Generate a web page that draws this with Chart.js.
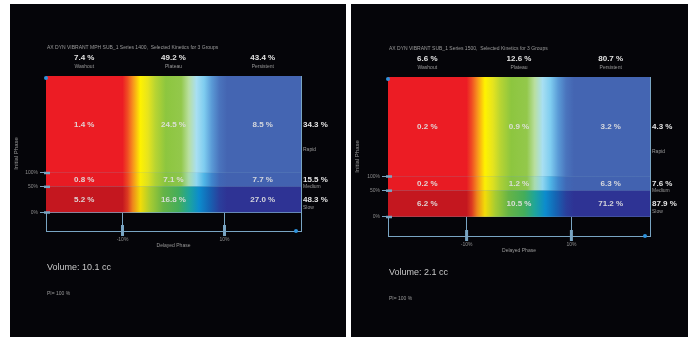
<!DOCTYPE html>
<html>
<head>
<meta charset="utf-8">
<script src="https://cdn.jsdelivr.net/npm/chart.js@4.4.1/dist/chart.umd.min.js"></script>
<style>
  html, body { margin: 0; padding: 0; background: #ffffff; }
  body { width: 692px; height: 337px; position: relative; overflow: hidden; }
  .panel { position: absolute; top: 4px; height: 333px; background: #050509; }
  .panel canvas { position: absolute; left: 0; top: 0; }
</style>
</head>
<body>
<div class="panel" style="left:10px;width:336px"><canvas id="left" width="336" height="333"></canvas></div>
<div class="panel" style="left:351px;width:337px"><canvas id="right" width="337" height="333"></canvas></div>
<script>
// kinetic map: delayed phase (columns) x initial phase (rows), % of lesion volume
const columns = ['Washout', 'Plateau', 'Persistent'];
const rowNames = ['Slow', 'Medium', 'Rapid'];          // bottom to top
const xThresholds = [-10, 10];
const xTickLabels = ['-10%', '10%'];
const yTickLabels = ['0%', '50%', '100%'];

// left study
const leftTitle = 'AX DYN VIBRANT MPH SUB_1 Series 1400,  Selected Kinetics for 3 Groups';
const leftColumnTotals = [7.4, 49.2, 43.4];
const leftRowTotals = [48.3, 15.5, 34.3];
const leftSlow = [5.2, 16.8, 27.0];
const leftMedium = [0.8, 7.1, 7.7];
const leftRapid = [1.4, 24.5, 8.5];
const leftVolume = '10.1';
const leftNote = 'PI= 100 %';

// right study
const rightTitle = 'AX DYN VIBRANT SUB_1 Series 1500,  Selected Kinetics for 3 Groups';
const rightColumnTotals = [6.6, 12.6, 80.7];
const rightRowTotals = [87.9, 7.6, 4.3];
const rightSlow = [6.2, 10.5, 71.2];
const rightMedium = [0.2, 1.2, 6.3];
const rightRapid = [0.2, 0.9, 3.2];
const rightVolume = '2.1';
const rightNote = 'PI= 100 %';

// layout (not data)
const FONT = 'Arial, "Liberation Sans", "DejaVu Sans", sans-serif';
const X_MIN = -25, X_MAX = 25;
const ROW_UNITS = [26, 14, 98];
const GAP_UNITS = 19;
const FRAME = '#79a5c3';
const rowNameOffset = [8, 7, 25];

Chart.defaults.font.family = FONT;

const topStops = [[-25,'#ec1c24'],[-10,'#ec1c24'],[-9,'#f04e23'],[-8,'#f7901e'],[-6.5,'#fff200'],[-5,'#e6e41e'],
  [-3.5,'#b6d433'],[-1.5,'#8dc63f'],[1.5,'#93c84b'],[3,'#b9dfa0'],[4.5,'#a8dff2'],[6,'#7fcdf0'],[7.5,'#5a9ad6'],
  [9,'#4a74bd'],[10.5,'#4465b2'],[25,'#4465b2']];
const midStops = [[-25,'#e81b23'],[-10,'#e81b23'],[-9,'#ee4a22'],[-8,'#f58d1e'],[-6.5,'#fbee05'],[-5,'#dde020'],
  [-3.5,'#acd036'],[-1.5,'#86c341'],[1.5,'#8cc54c'],[3,'#a9dbb0'],[4.5,'#8fd6f0'],[6,'#4fb5e6'],[7.5,'#3f86cc'],
  [9,'#4068b6'],[10.5,'#4262b0'],[25,'#4262b0']];
const lowStops = [[-25,'#c4171f'],[-10,'#c4171f'],[-9,'#dc3a21'],[-8,'#ee861c'],[-6.5,'#f2dc08'],[-4.5,'#a6cb32'],
  [-2,'#66b446'],[1,'#44ad5a'],[3,'#1fa59a'],[5,'#0c8ccd'],[7,'#1565b4'],[9,'#2a3f9c'],[10.5,'#2e3394'],[25,'#2e3394']];

function gradient(stops) {
  return (c) => {
    const chart = c.chart;
    if (!chart.chartArea) return null;
    const x = chart.scales.x;
    const g = chart.ctx.createLinearGradient(x.getPixelForValue(X_MIN), 0, x.getPixelForValue(X_MAX), 0);
    stops.forEach(s => g.addColorStop((s[0] - X_MIN) / (X_MAX - X_MIN), s[1]));
    return g;
  };
}

function makePanel(id, box, title, colTotals, rowTotals, slow, medium, rapid, volume, note) {
  const rowEdges = [0];
  ROW_UNITS.forEach(u => rowEdges.push(rowEdges[rowEdges.length - 1] + u));
  const colEdges = [X_MIN].concat(xThresholds, [X_MAX]);
  const cells = [slow, medium, rapid];
  const fills = [lowStops, midStops, topStops];

  const datasets = rowEdges.map((e, i) => ({
    data: [{x: X_MIN, y: e}, {x: X_MAX, y: e}],
    borderWidth: 0,
    borderColor: 'transparent',
    pointRadius: 0,
    fill: i === 0 ? false : '-1',
    backgroundColor: i === 0 ? 'transparent' : gradient(fills[i - 1])
  }));

  const labels = {
    id: 'labels' + id,
    afterDraw(chart) {
      const {ctx, chartArea: a, scales: {x, y}} = chart;
      ctx.save();
      // axis decorations
      ctx.fillStyle = FRAME;
      xThresholds.forEach(v => ctx.fillRect(x.getPixelForValue(v) - 1.5, a.bottom - 6, 3, 11));
      rowEdges.slice(0, 3).forEach(v => ctx.fillRect(a.left - 2, y.getPixelForValue(v) - 1, 6, 2.5));
      ctx.fillStyle = '#2f93dc';
      ctx.beginPath(); ctx.arc(a.right - 5, a.bottom, 2, 0, Math.PI * 2); ctx.fill();
      ctx.beginPath(); ctx.arc(a.left, a.top + 2, 2, 0, Math.PI * 2); ctx.fill();

      ctx.textBaseline = 'middle';
      // title
      ctx.textAlign = 'left';
      ctx.fillStyle = '#9c9c9c';
      ctx.font = '5px ' + FONT;
      ctx.fillText(title, a.left + 1, a.top - 28);
      // column headers
      ctx.textAlign = 'center';
      for (let c = 0; c < 3; c++) {
        const cx = x.getPixelForValue((colEdges[c] + colEdges[c + 1]) / 2);
        ctx.fillStyle = '#e4e4e4';
        ctx.font = 'bold 8px ' + FONT;
        ctx.fillText(colTotals[c].toFixed(1) + ' %', cx, a.top - 18);
        ctx.fillStyle = '#9a9a9a';
        ctx.font = '5px ' + FONT;
        ctx.fillText(columns[c], cx, a.top - 9);
        // cells
        for (let r = 0; r < 3; r++) {
          const cy = y.getPixelForValue((rowEdges[r] + rowEdges[r + 1]) / 2);
          ctx.fillStyle = 'rgba(225,225,225,0.92)';
          ctx.font = 'bold 8px ' + FONT;
          ctx.fillText(cells[r][c].toFixed(1) + ' %', cx, cy);
        }
      }
      // row totals
      ctx.textAlign = 'left';
      for (let r = 0; r < 3; r++) {
        const cy = y.getPixelForValue((rowEdges[r] + rowEdges[r + 1]) / 2);
        ctx.fillStyle = '#e4e4e4';
        ctx.font = 'bold 8px ' + FONT;
        ctx.fillText(rowTotals[r].toFixed(1) + ' %', a.right + 2, cy);
        ctx.fillStyle = '#9a9a9a';
        ctx.font = '5px ' + FONT;
        ctx.fillText(rowNames[r], a.right + 2, cy + rowNameOffset[r]);
      }
      // volume + note
      ctx.fillStyle = '#c8c8c8';
      ctx.font = '9px ' + FONT;
      ctx.fillText('Volume: ' + volume + ' cc', a.left + 1, a.bottom + 37);
      ctx.fillStyle = '#9a9a9a';
      ctx.font = '5px ' + FONT;
      ctx.fillText(note, a.left + 1, a.bottom + 63);
      ctx.restore();
    }
  };

  return new Chart(document.getElementById(id), {
    type: 'line',
    data: { datasets: datasets },
    plugins: [labels],
    options: {
      responsive: false,
      animation: false,
      devicePixelRatio: 1,
      layout: { padding: { left: 0, top: box.top, right: box.right, bottom: box.bottom } },
      plugins: { legend: { display: false }, tooltip: { enabled: false } },
      scales: {
        x: {
          type: 'linear', min: X_MIN, max: X_MAX, z: 1,
          afterBuildTicks: s => { s.ticks = colEdges.map(v => ({value: v})); },
          afterFit: s => { s.height = 18; },
          ticks: {
            autoSkip: false, maxRotation: 0, padding: 1, color: '#8e8e8e', font: { size: 5 },
            callback: v => { const i = xThresholds.indexOf(v); return i >= 0 ? xTickLabels[i] : ''; }
          },
          grid: {
            color: FRAME, lineWidth: 1, tickLength: 5,
            tickColor: c => xThresholds.includes(c.tick && c.tick.value) ? FRAME : 'transparent'
          },
          border: { display: true, color: FRAME, width: 1 },
          title: { display: true, text: 'Delayed Phase', color: '#9a9a9a', font: { size: 5 }, padding: 0 }
        },
        y: {
          type: 'linear', min: -GAP_UNITS, max: rowEdges[3], z: 1,
          afterBuildTicks: s => { s.ticks = rowEdges.map(v => ({value: v})); },
          afterFit: s => { s.width = box.left; },
          ticks: {
            autoSkip: false, padding: 2, color: '#8e8e8e', font: { size: 5 },
            callback: (v, i) => yTickLabels[i] || ''
          },
          grid: {
            color: FRAME, lineWidth: 1, tickLength: 6,
            tickColor: c => (c.tick && c.tick.value === rowEdges[3]) ? 'transparent' : FRAME
          },
          border: { display: true, color: FRAME, width: 1 },
          title: { display: true, text: 'Initial Phase', color: '#9a9a9a', font: { size: 6 }, padding: { top: 3, bottom: 0 } }
        }
      }
    }
  });
}

makePanel('left', {left: 36, top: 72, right: 45, bottom: 88}, leftTitle,
  leftColumnTotals, leftRowTotals, leftSlow, leftMedium, leftRapid, leftVolume, leftNote);
makePanel('right', {left: 37, top: 73, right: 38, bottom: 83}, rightTitle,
  rightColumnTotals, rightRowTotals, rightSlow, rightMedium, rightRapid, rightVolume, rightNote);
</script>
</body>
</html>
